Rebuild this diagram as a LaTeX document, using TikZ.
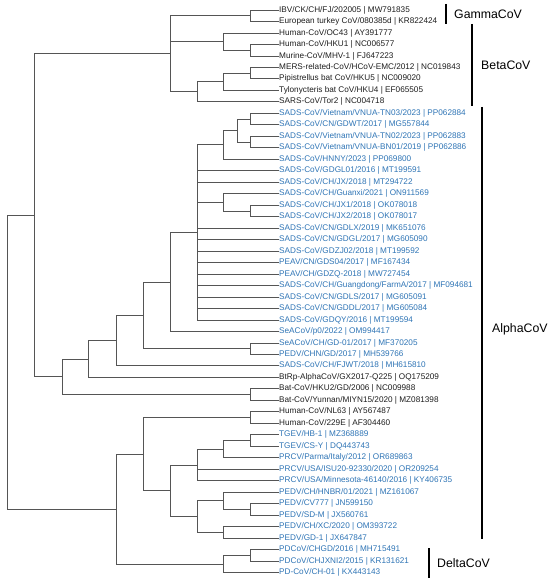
\documentclass[tikz,border=0pt]{standalone}
\usepackage{fontspec}
\setmainfont{Liberation Sans}
\definecolor{leafblue}{RGB}{46,116,181}
\definecolor{leafblack}{RGB}{30,30,30}
\definecolor{branchgray}{RGB}{85,85,85}
\begin{document}
\begin{tikzpicture}[x=1pt,y=-1pt,
  branch/.style={draw=branchgray,line width=0.8pt},
  lbl/.style={anchor=west,inner sep=0pt,font=\fontsize{8.2}{9}\selectfont},
  bl/.style={lbl,text=leafblue},
  bk/.style={lbl,text=leafblack},
  cladebar/.style={draw=black,line width=1.8pt},
  cladetext/.style={anchor=west,inner sep=0pt,font=\fontsize{12.3}{14}\selectfont,text=black}]
\useasboundingbox (0,0) rectangle (550,583);
% leaves
\node[bk] (l1) at (279,10.00) {IBV/CK/CH/FJ/202005 | MW791835};
\node[bk] (l2) at (279,21.48) {European turkey CoV/080385d | KR822424};
\node[bk] (l3) at (279,32.96) {Human-CoV/OC43 | AY391777};
\node[bk] (l4) at (279,44.44) {Human-CoV/HKU1 | NC006577};
\node[bk] (l5) at (279,55.92) {Murine-CoV/MHV-1 | FJ647223};
\node[bk] (l6) at (279,67.40) {MERS-related-CoV/HCoV-EMC/2012 | NC019843};
\node[bk] (l7) at (279,78.88) {Pipistrellus bat CoV/HKU5 | NC009020};
\node[bk] (l8) at (279,90.36) {Tylonycteris bat CoV/HKU4 | EF065505};
\node[bk] (l9) at (279,101.84) {SARS-CoV/Tor2 | NC004718};
\node[bl] (l10) at (279,113.32) {SADS-CoV/Vietnam/VNUA-TN03/2023 | PP062884};
\node[bl] (l11) at (279,124.80) {SADS-CoV/CN/GDWT/2017 | MG557844};
\node[bl] (l12) at (279,136.28) {SADS-CoV/Vietnam/VNUA-TN02/2023 | PP062883};
\node[bl] (l13) at (279,147.76) {SADS-CoV/Vietnam/VNUA-BN01/2019 | PP062886};
\node[bl] (l14) at (279,159.24) {SADS-CoV/HNNY/2023 | PP069800};
\node[bl] (l15) at (279,170.72) {SADS-CoV/GDGL01/2016 | MT199591};
\node[bl] (l16) at (279,182.20) {SADS-CoV/CH/JX/2018 | MT294722};
\node[bl] (l17) at (279,193.68) {SADS-CoV/CH/Guanxi/2021 | ON911569};
\node[bl] (l18) at (279,205.16) {SADS-CoV/CH/JX1/2018 | OK078018};
\node[bl] (l19) at (279,216.64) {SADS-CoV/CH/JX2/2018 | OK078017};
\node[bl] (l20) at (279,228.12) {SADS-CoV/CN/GDLX/2019 | MK651076};
\node[bl] (l21) at (279,239.60) {SADS-CoV/CN/GDGL/2017 | MG605090};
\node[bl] (l22) at (279,251.08) {SADS-CoV/GDZJ02/2018 | MT199592};
\node[bl] (l23) at (279,262.56) {PEAV/CN/GDS04/2017 | MF167434};
\node[bl] (l24) at (279,274.04) {PEAV/CH/GDZQ-2018 | MW727454};
\node[bl] (l25) at (279,285.52) {SADS-CoV/CH/Guangdong/FarmA/2017 | MF094681};
\node[bl] (l26) at (279,297.00) {SADS-CoV/CN/GDLS/2017 | MG605091};
\node[bl] (l27) at (279,308.48) {SADS-CoV/CN/GDDL/2017 | MG605084};
\node[bl] (l28) at (279,319.96) {SADS-CoV/GDQY/2016 | MT199594};
\node[bl] (l29) at (279,331.44) {SeACoV/p0/2022 | OM994417};
\node[bl] (l30) at (279,342.92) {SeACoV/CH/GD-01/2017 | MF370205};
\node[bl] (l31) at (279,354.40) {PEDV/CHN/GD/2017 | MH539766};
\node[bl] (l32) at (279,365.88) {SADS-CoV/CH/FJWT/2018 | MH615810};
\node[bk] (l33) at (279,377.36) {BtRp-AlphaCoV/GX2017-Q225 | OQ175209};
\node[bk] (l34) at (279,388.84) {Bat-CoV/HKU2/GD/2006 | NC009988};
\node[bk] (l35) at (279,400.32) {Bat-CoV/Yunnan/MIYN15/2020 | MZ081398};
\node[bk] (l36) at (279,411.80) {Human-CoV/NL63 | AY567487};
\node[bk] (l37) at (279,423.28) {Human-CoV/229E | AF304460};
\node[bl] (l38) at (279,434.76) {TGEV/HB-1 | MZ368889};
\node[bl] (l39) at (279,446.24) {TGEV/CS-Y | DQ443743};
\node[bl] (l40) at (279,457.72) {PRCV/Parma/Italy/2012 | OR689863};
\node[bl] (l41) at (279,469.20) {PRCV/USA/ISU20-92330/2020 | OR209254};
\node[bl] (l42) at (279,480.68) {PRCV/USA/Minnesota-46140/2016 | KY406735};
\node[bl] (l43) at (279,492.16) {PEDV/CH/HNBR/01/2021 | MZ161067};
\node[bl] (l44) at (279,503.64) {PEDV/CV777 | JN599150};
\node[bl] (l45) at (279,515.12) {PEDV/SD-M | JX560761};
\node[bl] (l46) at (279,526.60) {PEDV/CH/XC/2020 | OM393722};
\node[bl] (l47) at (279,538.08) {PEDV/GD-1 | JX647847};
\node[bl] (l48) at (279,549.56) {PDCoV/CHGD/2016 | MH715491};
\node[bl] (l49) at (279,561.04) {PDCoV/CHJXNI2/2015 | KR131621};
\node[bl] (l50) at (279,572.52) {PD-CoV/CH-01 | KX443143};
% internal nodes
\coordinate (g12) at (250,15.74);
\coordinate (n45) at (250,50.18);
\coordinate (n345) at (223,41.57);
\coordinate (n67) at (250,73.14);
\coordinate (n678) at (223,81.75);
\coordinate (n6789) at (197,91.80);
\coordinate (ntop) at (170,53.77);
\coordinate (n1011) at (250,119.06);
\coordinate (n1213) at (250,142.02);
\coordinate (n1013) at (237,130.54);
\coordinate (n1014) at (223,144.89);
\coordinate (n1819) at (250,210.90);
\coordinate (n1719) at (223,202.29);
\coordinate (nS) at (197,232.43);
\coordinate (nA) at (170,281.90);
\coordinate (n3031) at (250,348.66);
\coordinate (nB) at (143,315.30);
\coordinate (nC) at (116,340.60);
\coordinate (nD) at (88,358.98);
\coordinate (n3435) at (250,394.58);
\coordinate (nE) at (62,376.78);
\coordinate (nF) at (34,215.30);
\coordinate (n3637) at (250,417.54);
\coordinate (n3839) at (250,440.50);
\coordinate (n3840) at (223,449.10);
\coordinate (n3842) at (197,464.90);
\coordinate (n4445) at (250,509.38);
\coordinate (n4345) at (223,500.77);
\coordinate (n4647) at (223,532.34);
\coordinate (n4347) at (197,516.56);
\coordinate (n3847) at (170,490.70);
\coordinate (nG) at (143,454.10);
\coordinate (n4849) at (250,555.30);
\coordinate (nDelta) at (223,563.90);
\coordinate (nH) at (116,509.00);
\coordinate (root) at (7,362.00);
% branches
\begin{scope}[branch]
\draw (g12) |- (l1.west); \draw (g12) |- (l2.west);
\draw (n45) |- (l4.west); \draw (n45) |- (l5.west);
\draw (n345) |- (l3.west); \draw (n345) |- (n45);
\draw (n67) |- (l6.west); \draw (n67) |- (l7.west);
\draw (n678) |- (n67); \draw (n678) |- (l8.west);
\draw (n6789) |- (n678); \draw (n6789) |- (l9.west);
\draw (ntop) |- (g12); \draw (ntop) |- (n345); \draw (ntop) |- (n6789);
\draw (n1011) |- (l10.west); \draw (n1011) |- (l11.west);
\draw (n1213) |- (l12.west); \draw (n1213) |- (l13.west);
\draw (n1013) |- (n1011); \draw (n1013) |- (n1213);
\draw (n1014) |- (n1013); \draw (n1014) |- (l14.west);
\draw (n1819) |- (l18.west); \draw (n1819) |- (l19.west);
\draw (n1719) |- (l17.west); \draw (n1719) |- (n1819);
\draw (nS) |- (n1014); \draw (nS) |- (l15.west); \draw (nS) |- (l16.west);
\draw (nS) |- (n1719);
\foreach \k in {20,...,28} {\draw (nS) |- (l\k.west);}
\draw (nA) |- (nS); \draw (nA) |- (l29.west);
\draw (n3031) |- (l30.west); \draw (n3031) |- (l31.west);
\draw (nB) |- (nA); \draw (nB) |- (n3031);
\draw (nC) |- (nB); \draw (nC) |- (l32.west);
\draw (nD) |- (nC); \draw (nD) |- (l33.west);
\draw (n3435) |- (l34.west); \draw (n3435) |- (l35.west);
\draw (nE) |- (nD); \draw (nE) |- (n3435);
\draw (nF) |- (ntop); \draw (nF) |- (nE);
\draw (n3637) |- (l36.west); \draw (n3637) |- (l37.west);
\draw (n3839) |- (l38.west); \draw (n3839) |- (l39.west);
\draw (n3840) |- (n3839); \draw (n3840) |- (l40.west);
\draw (n3842) |- (n3840); \draw (n3842) |- (l41.west); \draw (n3842) |- (l42.west);
\draw (n4445) |- (l44.west); \draw (n4445) |- (l45.west);
\draw (n4345) |- (l43.west); \draw (n4345) |- (n4445);
\draw (n4647) |- (l46.west); \draw (n4647) |- (l47.west);
\draw (n4347) |- (n4345); \draw (n4347) |- (n4647);
\draw (n3847) |- (n3842); \draw (n3847) |- (n4347);
\draw (nG) |- (n3637); \draw (nG) |- (n3847);
\draw (n4849) |- (l48.west); \draw (n4849) |- (l49.west);
\draw (nDelta) |- (n4849); \draw (nDelta) |- (l50.west);
\draw (nH) |- (nG); \draw (nH) |- (nDelta);
\draw (root) |- (nF); \draw (root) |- (nH);
\end{scope}
% clade bars
\draw[cladebar] (446,4) -- (446,24);
\node[cladetext] (gamma) at (454,14) {GammaCoV};
\draw[cladebar] (472,24) -- (472,106);
\node[cladetext] (beta) at (481,65) {BetaCoV};
\draw[cladebar] (482,107) -- (482,539);
\node[cladetext] (alpha) at (492,329) {AlphaCoV};
\draw[cladebar] (429,548) -- (429,578);
\node[cladetext] (delta) at (437,563) {DeltaCoV};
\end{tikzpicture}
\end{document}
